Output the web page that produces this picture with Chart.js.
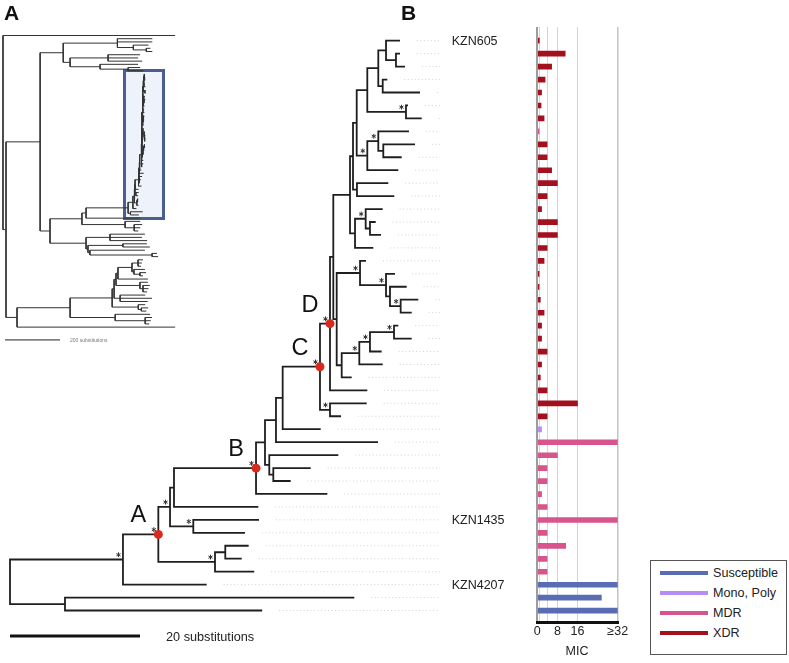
<!DOCTYPE html>
<html><head><meta charset="utf-8">
<script src="https://cdn.jsdelivr.net/npm/chart.js@4/dist/chart.umd.min.js"></script>
<style>
html,body{margin:0;padding:0;background:#fff;}
body{width:789px;height:663px;position:relative;overflow:hidden;font-family:"Liberation Sans",Arial,Helvetica,sans-serif;color:#222;}
canvas{position:absolute;}
.t{position:absolute;white-space:nowrap;line-height:1;}
#box{position:absolute;left:123px;top:69px;width:42px;height:151px;box-sizing:border-box;border:3px solid #4a5f8f;background:#edf2fb;}
#legend{position:absolute;left:650px;top:560px;width:137px;height:95px;box-sizing:border-box;border:1px solid #555;background:#fff;}
.lg-line{position:absolute;height:4px;}
</style></head><body>
<div id="box"></div>
<canvas id="treeB" width="500" height="663" style="left:0;top:0"></canvas>
<canvas id="treeA" width="180" height="345" style="left:0;top:0"></canvas>
<canvas id="bars" width="160" height="663" style="left:500px;top:0"></canvas>
<div id="legend"></div>
<div class="t" style="left:4px;top:2.3px;font-size:21px;font-weight:bold;color:#111">A</div>
<div class="t" style="left:401px;top:2.3px;font-size:21px;font-weight:bold;color:#111">B</div>
<div class="t" style="left:166px;top:630.5px;font-size:12.7px">20 substitutions</div>
<div class="t" style="left:70px;top:337.5px;font-size:5px;color:#777">200 substitutions</div>
<div class="t" style="left:557px;top:645px;width:40px;text-align:center;font-size:12.5px">MIC</div>
<script>
// ---------------- DATA ----------------
// Panel B phylogeny (Newick, branch lengths in substitutions); "*" = supported node, A-D = labelled nodes
const cladeP3  = "((r1:2.15,(r2:0.62,r3:1.39):1.53):1.19,(r4:0.71,r5:5.74):0.68)";
const cladeP5  = "(" + cladeP3 + ":1.69,(r6:0.31,r7:2.42)*:5.95)";
const cladeP10 = "((r8:4.72,(r9:4.88,r10:2.83):0.77)*:1.69,r11:4.77)";
const cladeP7  = "(" + cladeP5 + ":1.63," + cladeP10 + "*:1.63)";
const cladeX   = "(" + cladeP7 + ":0.57,(r12:4.82,r13:5.74):0.61)";
const cladeQ3  = "((r14:2.62,(r15:0.88,r16:1.7):0.66)*:1.64,r17:2.81)";
const cladeP12 = "(" + cladeX + ":0.46," + cladeQ3 + ":0.77)";
const cladeR1  = "(r18:0.92,(r19:1.38,(r20:2.57,(r21:2.72,r22:1.7)*:1.64):0.61)*:4.0)";
const cladeN341= "((((r23:0.66,r24:2.72)*:3.7,r25:1.8)*:1.64,r26:3.6)*:2.71,r27:1.54)";
const cladeN2  = "(" + cladeR1 + "*:3.59," + cladeN341 + ":0.77)";
const cladeN1  = "(" + cladeP12 + ":2.57," + cladeN2 + ":0.52)";
const cladeD   = "(" + cladeN1 + ":0.51,r28:5.74)";
const cladeC   = "(" + cladeD + "D*:1.54,(r29:5.65,r30:1.69)*:1.54)";
const cladeN283= "(" + cladeC + "C*:5.74,r31:5.85)";
const cladeN276= "(" + cladeN283 + ":1.03,r32:15.7)";
const cladeN265= "(" + cladeN276 + ":1.69,(r33:10.62,(r34:5.75,r35:2.67):0.62):0.66)";
const cladeB   = "(" + cladeN265 + ":1.38,r36:10.97)";
const cladeN174= "(" + cladeB + "B*:12.62,r37:12.97)";
const cladeN170= "(" + cladeN174 + ":0.61,(r38:10.11,r39:7.95)*:3.58)";
const cladeA   = "(" + cladeN170 + "*:1.8,((r40:3.6,r41:2.53):1.58,r42:6.04)*:8.72)";
const cladeN123= "(" + cladeA + "A*:5.44,r43:12.88)";
const treeB    = "(" + cladeN123 + "*:17.38,(r44:44.51,r45:30.34):8.46)";

// Panel A overview phylogeny (substitutions), boxed clade = treeB
const ovV1 = "(k1:127,k2:127,(k3:55,(k4:15,k5:22):47):58)";
const ovV2 = "((k6:116,k7:109,k8:124):138,(k9:138,(k10:44,k11:55):102):109)";
const ovV  = "(" + ovV1 + ":197," + ovV2 + ":25)";
const ovW1 = "((" + treeB + ":153,k57:197):15,(k58:55,(k59:29,k60:22,k61:15):33):157)";
const ovW2 = "((k62:127,k63:116,k64:135):87,((k65:87,k66:98):127,(k67:200,(k68:18,k69:22):226):7):7)";
const ovW  = "(" + ovW1 + ":116," + ovW2 + ":131)";
const ovT  = "(" + ovV + ":84," + ovW + ":36)";
const ovLt = "((k70:18,k70b:14,k71:11):22,(k72:40,(k73:22,k74:11):22):7)";
const ovL4 = "(" + ovLt + ":51,k75:109)";
const ovL3 = "(" + ovL4 + ":7,(k76:29,(k77:25,k77b:20,k78:15):11):87)";
const ovL2 = "(" + ovL3 + ":7,(k79:91,k80:116,k80b:100):22)";
const ovL1 = "(" + ovL2 + ":7,(k81:25,(k82:25,k83:18):11):95)";
const ovL  = "(" + ovL1 + ":153,(k84:127,(k85:25,k85b:20,k86:15):109):164)";
const ovU  = "(" + ovL + ":193,k87:575)";
const treeA = "(a0:626,(" + ovT + ":124," + ovU + ":40):11)";

// MIC bars (one per leaf of tree B, top to bottom)
const micValues = [0.8,11.1,5.7,3.1,1.7,1.5,2.7,0.7,3.9,3.9,5.7,8,3.9,1.7,8,8,3.9,2.7,0.7,0.7,
                   1.2,2.7,1.7,1.7,3.9,1.7,1.2,3.9,16,3.9,1.7,32,8,3.9,3.9,1.7,3.9,32,3.9,11.3,
                   3.9,3.9,32,25.5,32];
const rowClass = ['XDR','XDR','XDR','XDR','XDR','XDR','XDR','MDR','XDR','XDR','XDR','XDR','XDR','XDR','XDR',
                  'XDR','XDR','XDR','XDR','XDR','XDR','XDR','XDR','XDR','XDR','XDR','XDR','XDR','XDR','XDR',
                  'Mono, Poly','MDR','MDR','MDR','MDR','MDR','MDR','MDR','MDR','MDR','MDR','MDR',
                  'Susceptible','Susceptible','Susceptible'];
const classNames  = ['Susceptible','Mono, Poly','MDR','XDR'];
const classColors = ['#5a6db4','#b48ef2','#d8548c','#a3111f'];
const micGrid       = [0,1,4,8,16,32];
const micTickLabels = ['0','','','8','16','\u226532'];
const isolateNames = ['KZN605','KZN1435','KZN4207'];
const isolateRows  = [0,37,42];
const scaleBarSubs = 20;
const overviewScaleSubs = 200;

// ---------------- helpers ----------------
const FONT = '"Liberation Sans", Arial, Helvetica, sans-serif';
function parseNewick(s){
  let i = 0;
  function node(){
    const n = {children:[], name:'', len:0};
    if (s[i] === '('){
      i++; n.children.push(node());
      while (s[i] === ','){ i++; n.children.push(node()); }
      i++;
    }
    let name = '';
    while (i < s.length && !':,);'.includes(s[i])) name += s[i++];
    n.name = name;
    if (s[i] === ':'){ i++; let num=''; while (i < s.length && !',);'.includes(s[i])) num += s[i++]; n.len = parseFloat(num); }
    return n;
  }
  return node();
}
function layoutTree(root){
  const nodes = []; let idx = 0;
  (function lay(n, px){
    n.x = px + n.len; nodes.push(n);
    if (!n.children.length){ n.y = idx++; }
    else { n.children.forEach(c => lay(c, n.x)); n.y = (n.children[0].y + n.children[n.children.length-1].y)/2; }
  })(root, 0);
  return nodes;
}
const GAP = {x:NaN, y:NaN};
function segments(nodes){
  const d = [];
  nodes.forEach(n => {
    if (!n.children.length) return;
    const c0 = n.children[0], ck = n.children[n.children.length-1];
    d.push({x:c0.x,y:c0.y},{x:n.x,y:c0.y},{x:n.x,y:ck.y},{x:ck.x,y:ck.y},GAP);
    n.children.slice(1,-1).forEach(c => d.push({x:n.x,y:c.y},{x:c.x,y:c.y},GAP));
  });
  return d;
}
const common = {responsive:false, animation:false, devicePixelRatio:1, events:[],
  plugins:{legend:{display:false}, tooltip:{enabled:false}}};

// ---------------- tree B ----------------
const rootB = parseNewick(treeB);
const nodesB = layoutTree(rootB);
const leavesB = nodesB.filter(n => !n.children.length);
const extEnd = 66.15;
const extData = [];
leavesB.forEach(l => { const s = l.x + 2.6; if (s < extEnd) extData.push({x:s,y:l.y},{x:extEnd,y:l.y},GAP); });
const dotNodes = nodesB.filter(n => /[A-D]/.test(n.name));
const starNodes = nodesB.filter(n => n.name.includes('*'));
const treeMarks = {
  id:'treeMarks',
  afterDatasetsDraw(chart){
    const {ctx} = chart, sx = chart.scales.x, sy = chart.scales.y;
    ctx.save();
    ctx.strokeStyle = '#333'; ctx.lineWidth = 1;
    starNodes.forEach(n => {
      const px = sx.getPixelForValue(n.x) - 4.5, py = sy.getPixelForValue(n.y) - 4.8, r = 2.4;
      ctx.beginPath();
      for (let k = 0; k < 3; k++){ const a = Math.PI/2 + k*Math.PI/3;
        ctx.moveTo(px + r*Math.cos(a), py + r*Math.sin(a)); ctx.lineTo(px - r*Math.cos(a), py - r*Math.sin(a)); }
      ctx.stroke();
    });
    ctx.fillStyle = '#d62a1f';
    dotNodes.forEach(n => { ctx.beginPath(); ctx.arc(sx.getPixelForValue(n.x), sy.getPixelForValue(n.y), 4.5, 0, Math.PI*2); ctx.fill(); });
    ctx.fillStyle = '#111'; ctx.font = '23.5px ' + FONT; ctx.textAlign = 'center'; ctx.textBaseline = 'alphabetic';
    dotNodes.forEach(n => {
      const label = n.name.replace('*','');
      ctx.fillText(label, sx.getPixelForValue(n.x) - 20, sy.getPixelForValue(n.y) - 20.5 + 8.4);
    });
    ctx.restore();
  }
};
const chartB = new Chart(document.getElementById('treeB'), {
  type:'scatter',
  data:{datasets:[
    {data:segments(nodesB), showLine:true, borderColor:'#1e1e1e', borderWidth:1.8, pointRadius:0, spanGaps:false},
    {data:extData, showLine:true, borderColor:'#d2d2d2', borderWidth:1, borderDash:[1,2.5], pointRadius:0, spanGaps:false},
    {data:[{x:0,y:45.97},{x:scaleBarSubs,y:45.97}], showLine:true, borderColor:'#111', borderWidth:3, pointRadius:0}
  ]},
  options:{...common, layout:{padding:0},
    scales:{x:{type:'linear', display:false, min:-1.5385, max:75.385},
            y:{type:'linear', display:false, min:-3.1429, max:48.054, reverse:true}}},
  plugins:[treeMarks]
});

// isolate labels
isolateNames.forEach((nm,i) => {
  const d = document.createElement('div'); d.className = 't';
  d.style.cssText = 'left:451.7px;font-size:12.5px;color:#222;top:' + (chartB.scales.y.getPixelForValue(isolateRows[i]) - 6.1) + 'px';
  d.textContent = nm; document.body.appendChild(d);
});

// ---------------- tree A ----------------
const nodesA = layoutTree(parseNewick(treeA));
new Chart(document.getElementById('treeA'), {
  type:'scatter',
  data:{datasets:[
    {data:segments(nodesA), showLine:true, borderColor:'#333', borderWidth:1, pointRadius:0, spanGaps:false},
    {data:[{x:7.3,y:95},{x:7.3+overviewScaleSubs,y:95}], showLine:true, borderColor:'#222', borderWidth:1, pointRadius:0}
  ]},
  options:{...common, layout:{padding:0},
    scales:{x:{type:'linear', display:false, min:-10.9, max:643.6},
            y:{type:'linear', display:false, min:-11.078, max:96.58, reverse:true}}}
});

// ---------------- MIC bars ----------------
new Chart(document.getElementById('bars'), {
  type:'bar',
  data:{datasets:[{
    data: micValues.map((v,i) => ({x:v, y:i})),
    backgroundColor: rowClass.map(c => classColors[classNames.indexOf(c)]),
    barThickness:5, borderWidth:0
  }]},
  options:{...common, indexAxis:'y',
    layout:{padding:{left:37.3, right:42.3, top:27, bottom:20.3}},
    scales:{
      y:{type:'linear', display:false, offset:false, bounds:'data', min:-1.058, max:44.93, reverse:true},
      x:{type:'linear', min:0, max:32, position:'bottom', offset:false,
         afterBuildTicks: s => { s.ticks = micGrid.map(v => ({value:v})); },
         afterFit: s => { s.height = 20; },
         ticks:{autoSkip:false, maxRotation:0, minRotation:0, padding:1, color:'#222',
                font:{size:12.5, family:FONT}, callback:(v,i) => micTickLabels[i]},
         grid:{drawTicks:false,
               color: c => c.tick && c.tick.value === 0 ? '#9c9c9c' : (c.tick && c.tick.value === 32 ? '#c4c4c4' : '#d4d4d4'),
               lineWidth: c => c.tick && c.tick.value === 0 ? 2 : (c.tick && c.tick.value === 32 ? 1.5 : 1)},
         border:{display:true, color:'#111', width:3}}
    }}
});

// ---------------- legend ----------------
const lg = document.getElementById('legend');
classNames.forEach((nm,i) => {
  const cy = 12.3 + 20*i;
  const ln = document.createElement('div'); ln.className = 'lg-line';
  ln.style.cssText += 'left:9px;width:48px;top:' + (cy - 2) + 'px;background:' + classColors[i];
  const tx = document.createElement('div'); tx.className = 't';
  tx.style.cssText = 'left:62px;font-size:12.6px;color:#222;top:' + (cy - 6.15) + 'px';
  tx.textContent = nm;
  lg.appendChild(ln); lg.appendChild(tx);
});
</script>
</body></html>
